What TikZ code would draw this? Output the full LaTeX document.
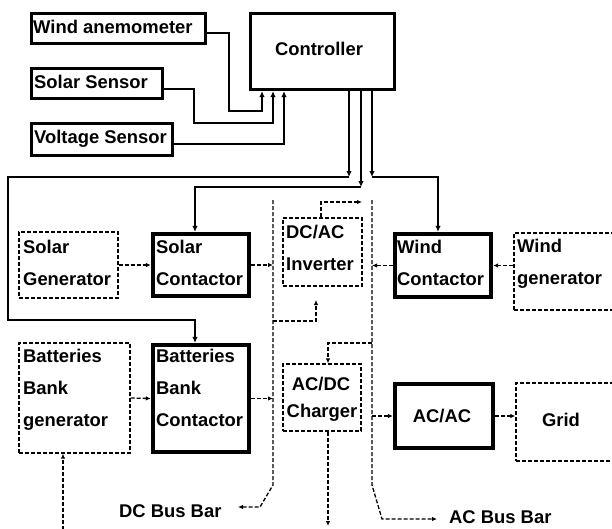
\documentclass[tikz,border=0pt]{standalone}
\usepackage{fontspec}
\setmainfont{Liberation Sans}
\usetikzlibrary{arrows.meta,calc}
\begin{document}
\begin{tikzpicture}[x=1pt,y=-1pt,
  txt/.style={font=\fontsize{18.4}{32}\selectfont\bfseries, inner sep=0pt, align=left},
  sbox/.style={draw, line width=3.2pt, rectangle, inner sep=0pt},
  cbox/.style={draw, line width=3.8pt, rectangle, inner sep=0pt},
  dbox/.style={draw, line width=1.3pt, dash pattern=on 4pt off 2pt, rectangle, inner sep=0pt},
  conn/.style={line width=2.8pt, -{Latex[length=6pt,width=5.5pt]}},
  dconn/.style={line width=1.3pt, dash pattern=on 4pt off 2pt, -{Latex[length=5pt,width=4.5pt]}},
]
\useasboundingbox (0,0) rectangle (612,528);
\clip (0,0) rectangle (612,528);

% boxes
\node[sbox, minimum width=174pt, minimum height=30pt] (wa) at (118.5,28.5) {};
\node[sbox, minimum width=131pt, minimum height=30pt] (ss) at (97,83.5) {};
\node[sbox, minimum width=141pt, minimum height=32pt] (vs) at (102,139.5) {};
\node[sbox, minimum width=144pt, minimum height=76pt] (ctrl) at (322.5,51.5) {};
\node[dbox, minimum width=99pt, minimum height=66pt] (sg) at (68.5,265) {};
\node[cbox, minimum width=96.5pt, minimum height=62.5pt] (sc) at (201,265) {};
\node[dbox, minimum width=79pt, minimum height=68pt] (inv) at (322.5,252) {};
\node[cbox, minimum width=96.5pt, minimum height=63.5pt] (wc) at (443,265.5) {};
\node[dbox, minimum width=126pt, minimum height=77pt] (wg) at (577,271.5) {};
\node[dbox, minimum width=111pt, minimum height=110pt] (bg) at (74.5,398) {};
\node[cbox, minimum width=96.5pt, minimum height=107.5pt] (bc) at (201,398.5) {};
\node[dbox, minimum width=78pt, minimum height=67pt] (chg) at (322,397.5) {};
\node[draw, line width=4.2pt, rectangle, inner sep=0pt, minimum width=98pt, minimum height=64pt] (acac) at (444,416) {};
\node[dbox, minimum width=124pt, minimum height=78pt] (grid) at (578,422) {};

% texts (base anchor of a multi-line node = baseline of its last line)
\node[txt, anchor=base west] (wa-t) at (33,33) {Wind anemometer};
\node[txt, anchor=base west] (ss-t) at (34,88) {Solar Sensor};
\node[txt, anchor=base west] (vs-t) at (34,143) {Voltage Sensor};
\node[txt, anchor=base] (ctrl-t) at (319,55) {Controller};
\node[txt, anchor=base west] (sg-t) at (23,285) {Solar\\Generator};
\node[txt, anchor=base west] (sc-t) at (156,285) {Solar\\Contactor};
\node[txt, anchor=base west] (inv-t) at (286,270) {DC/AC\\Inverter};
\node[txt, anchor=base west] (wc-t) at (397,285) {Wind\\Contactor};
\node[txt, anchor=base west] (wg-t) at (517,284) {Wind\\generator};
\node[txt, anchor=base west] (bg-t) at (23,426) {Batteries\\Bank\\generator};
\node[txt, anchor=base west] (bc-t) at (156,426) {Batteries\\Bank\\Contactor};
\node[txt, anchor=base] (chg-t1) at (321,390) {AC/DC};
\node[txt, anchor=base] (chg-t2) at (322,417) {Charger};
\node[txt, anchor=base] (acac-t) at (442,422) {AC/AC};
\node[txt, anchor=base] (grid-t) at (561,426) {Grid};
\node[txt, anchor=base west] (dcbus) at (119,517) {DC Bus Bar};
\node[txt, anchor=base west] (acbus) at (449,523) {AC Bus Bar};

% sensor connectors
\draw[conn] ([yshift=-4.5pt]wa.east) -| (229,111) -| ([xshift=-60.5pt]ctrl.south);
\draw[conn] ([yshift=-5.5pt]ss.east) -| (194,123) -| ([xshift=-49.5pt]ctrl.south);
\draw[conn] ([yshift=-4.5pt]vs.east) -| ([xshift=-38.5pt]ctrl.south);

% controller outputs
\coordinate (j1) at (349,177);
\coordinate (j2) at (361,187);
\coordinate (j3) at (372,177);
\draw[conn] ([xshift=26.5pt]ctrl.south) -- (j1);
\draw[conn] (j1) -- (8,177) |- (195,320) -- ([xshift=-6pt]bc.north);
\draw[conn] ([xshift=38.5pt]ctrl.south) -- (j2);
\draw[conn] (j2) -| ([xshift=-6pt]sc.north);
\draw[conn] ([xshift=49.5pt]ctrl.south) -- (j3);
\draw[conn] (j3) -| ([xshift=-5pt]wc.north);

% bus bars
\coordinate (dcT) at (273,200);
\coordinate (dcB) at (273,485);
\coordinate (dcK) at (260,507);
\coordinate (dcE) at (238,507);
\coordinate (acT) at (372,200);
\coordinate (acB) at (372,485);
\coordinate (acK) at (382,519);
\coordinate (acE) at (437,519);
\draw[dconn] (dcT) -- (dcB) -- (dcK) -- (dcE);
\draw[dconn] (acT) -- (acB) -- (acK) -- (acE);

% dashed power flows
\draw[dconn] (sg.east) -- (sc.west);
\draw[dconn] (sc.east) -- (sc.east -| dcT);
\draw[dconn] (wc.east -| wg.west) -- (wc.east);
\draw[dconn] (wc.west) -- (wc.west -| acT);
\coordinate (invA) at (362,202);
\draw[dconn] ([xshift=-1.5pt]inv.north) |- (invA);
\coordinate (dcI) at (273,321);
\coordinate (invB) at (316,300);
\draw[dconn] (dcI) -| (invB);
\coordinate (acC) at (372,343);
\draw[dconn] (acC) -| ([xshift=6pt]chg.north);
\coordinate (chgE) at (328,526);
\draw[dconn] ([xshift=6pt]chg.south) -- (chgE);
\draw[dconn] (bg.east) -- (bc.west);
\draw[dconn] (bc.east) -- (bc.east -| dcT);
\coordinate (bgS) at (63,530);
\draw[dconn] (bgS) -- ([xshift=-11.5pt]bg.south);
\draw[dconn] (acac.west -| acT) -- (acac.west);
\draw[dconn] (acac.east) -- (acac.east -| grid.west);
\end{tikzpicture}
\end{document}
